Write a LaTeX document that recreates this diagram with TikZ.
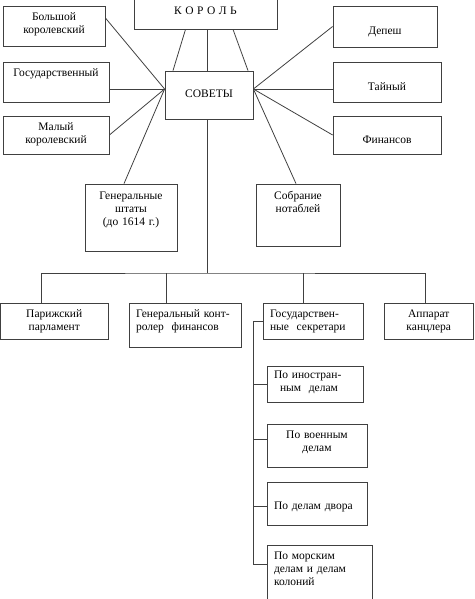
\documentclass[tikz,border=0pt]{standalone}
\usepackage{fontspec}
\setmainfont{Liberation Serif}
\usetikzlibrary{positioning,calc}

\begin{document}
\begin{tikzpicture}[x=1pt, y=-1pt,
				block/.style={rectangle, draw=black!75, line width=0.8pt, inner xsep=4pt, inner ysep=0pt, align=center, anchor=base, font=\fontsize{11.5}{13}\selectfont},
				lblock/.style={block, inner xsep=7pt, align=left},
				sz/.style n args={3}{text width=#1, text height=#2, text depth=#3}
			]
			\clip (0,0) rectangle (474,599);
			\node[block, sz={135pt}{25pt}{14pt}] (king) at (205.5,15) {К\hspace{3.5pt}О\hspace{3.5pt}Р\hspace{3.5pt}О\hspace{3.5pt}Л\hspace{3.5pt}Ь};
			\node[block, sz={80pt}{26.7pt}{21.3pt}] (councils) at (209,97.7) {СОВЕТЫ};
			\node[block, sz={94pt}{14.7pt}{25.3pt}] (grandroyal) at (54,20.7) {Большой\\королевский};
			\node[block, sz={98pt}{15pt}{25pt}] (state) at (56,77) {Государственный};
			\node[block, sz={98pt}{15pt}{23pt}] (smallroyal) at (56,131) {Малый\\королевский};
			\node[block, sz={96pt}{29pt}{12pt}] (dispatch) at (385,35) {Депеш};
			\node[block, sz={100pt}{28.7pt}{11.3pt}] (secret) at (387,90.7) {Тайный};
			\node[block, sz={100pt}{27pt}{11pt}] (finance) at (387,143) {Финансов};
			\node[block, sz={84pt}{15pt}{52pt}] (estates) at (131,199) {Генеральные\\штаты\\(до 1614 г.)};
			\node[block, sz={76pt}{15pt}{47pt}] (notables) at (298,199) {Собрание\\нотаблей};
			\node[block, sz={99.5pt}{14pt}{22pt}] (parlement) at (54.25,317) {Парижский\\парламент};
			\node[lblock, sz={98pt}{14pt}{30pt}] (controller) at (185,317) {Генеральный конт-\\ролер~ финансов};
			\node[lblock, sz={86pt}{14pt}{22pt}] (secretaries) at (313,317) {Государствен-\\ные~ секретари};
			\node[block, sz={81.5pt}{14pt}{22pt}] (chancellor) at (428.75,317) {Аппарат\\канцлера};
			\node[lblock, sz={82pt}{12pt}{24pt}] (foreign) at (315,378) {По иностран-\\\hspace*{6pt}ным~ делам};
			\node[block, sz={92pt}{14pt}{29pt}] (war) [below right=22pt and 0pt of foreign.south west] {По военным\\делам};
			\node[lblock, sz={86pt}{27pt}{16pt}] (court) [below right=14pt and 0pt of war.south west] {По делам двора};
			\node[lblock, sz={91pt}{13.7pt}{48pt}] (navy) [below right=19pt and 0pt of court.south west] {По морским\\делам и делам\\колоний};
			\coordinate (cw) at ([yshift=6pt]councils.west);
			\coordinate (ce) at ([yshift=6pt]councils.east);
			\coordinate (trunk) at ([xshift=-2pt]councils.south);
			\coordinate (bus) at (trunk |- 0,273);
			\coordinate (d2) at ([xshift=-19pt]controller.north);
			\coordinate (d3) at ([xshift=-10pt]secretaries.north);
			\coordinate (spine) at ([xshift=-9pt]secretaries.west);
			\coordinate (t2) at ([yshift=6.5pt]war.west);
			\coordinate (t3) at ([yshift=-2.5pt]court.west);
			\coordinate (t4) at ([yshift=11.85pt]navy.west);
			\begin{scope}[draw=black!75, line width=0.8pt]
			\draw ([xshift=-20pt]king.south) -- ([xshift=-36pt]councils.north);
			\draw ([xshift=1.5pt]king.south) -- ([xshift=-2pt]councils.north);
			\draw ([xshift=27.5pt]king.south) -- ([xshift=39pt]councils.north);
			\draw (cw) -- ([yshift=8pt]grandroyal.east);
			\draw (cw) -- ([yshift=-7pt]state.east);
			\draw (cw) -- (smallroyal.east);
			\draw (cw) -- ([xshift=-7pt]estates.north);
			\draw (ce) -- (dispatch.west);
			\draw (ce) -- ([yshift=-7pt]secret.west);
			\draw (ce) -- (finance.west);
			\draw (ce) -- ([xshift=-2pt]notables.north);
			\draw (trunk) -- (bus);
			\draw ([xshift=-13.25pt]parlement.north) |- (bus) -| ([xshift=-3.75pt]chancellor.north);
			\draw (d2) -- (d2 |- bus);
			\draw (d3) -- (d3 |- bus);
			\draw (secretaries.west) -- (spine) -- (spine |- t4) -- (t4);
			\foreach \t in {foreign.west, t2, t3} \draw (spine |- \t) -- (\t);
			\end{scope}
			\end{tikzpicture}
\end{document}
